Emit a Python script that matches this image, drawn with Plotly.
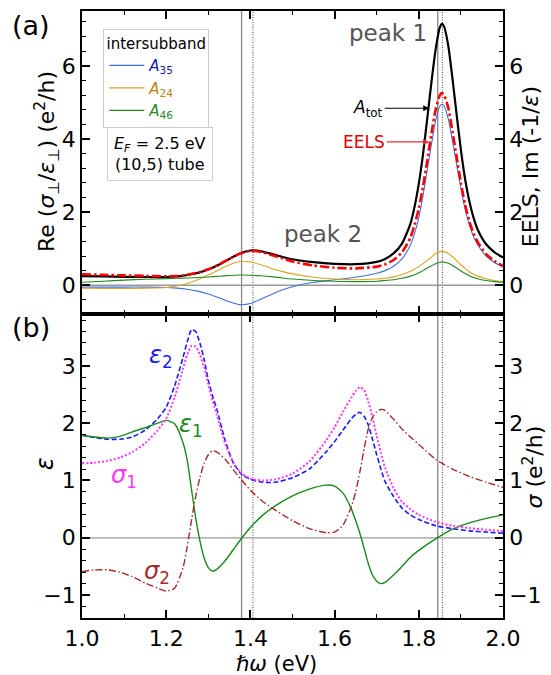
import plotly.graph_objects as go

# ---------------- data: panel (a) ----------------
energy_a = [1.00, 1.05, 1.10, 1.15, 1.20, 1.225, 1.25, 1.275, 1.30, 1.325, 1.35, 1.375, 1.40, 1.425,
            1.45, 1.475, 1.50, 1.55, 1.60, 1.65, 1.70, 1.72, 1.74, 1.76, 1.78, 1.79, 1.80, 1.81, 1.82,
            1.83, 1.84, 1.85, 1.855, 1.86, 1.87, 1.88, 1.89, 1.90, 1.91, 1.92, 1.93, 1.94, 1.96, 1.98, 2.00]
a_tot = [0.25, 0.24, 0.23, 0.225, 0.225, 0.24, 0.28, 0.34, 0.43, 0.56, 0.72, 0.87, 0.95, 0.93,
         0.86, 0.78, 0.71, 0.63, 0.585, 0.575, 0.64, 0.72, 0.87, 1.14, 1.68, 2.15, 2.78, 3.58, 4.55,
         5.55, 6.45, 7.05, 7.15, 7.08, 6.55, 5.65, 4.65, 3.7, 2.9, 2.3, 1.85, 1.52, 1.12, 0.9, 0.76]
eels = [0.30, 0.285, 0.27, 0.255, 0.245, 0.25, 0.285, 0.345, 0.435, 0.565, 0.72, 0.865, 0.94, 0.91,
        0.83, 0.74, 0.65, 0.54, 0.48, 0.46, 0.51, 0.57, 0.69, 0.9, 1.3, 1.65, 2.1, 2.7, 3.4,
        4.15, 4.8, 5.2, 5.26, 5.2, 4.85, 4.2, 3.5, 2.8, 2.2, 1.75, 1.42, 1.18, 0.85, 0.66, 0.53]
a35 = [-0.05, -0.05, -0.05, -0.05, -0.06, -0.08, -0.11, -0.16, -0.24, -0.34, -0.45, -0.53, -0.5, -0.38,
       -0.25, -0.13, -0.04, 0.08, 0.15, 0.22, 0.33, 0.40, 0.52, 0.72, 1.1, 1.42, 1.85, 2.45, 3.15,
       3.85, 4.5, 4.9, 4.95, 4.9, 4.55, 3.95, 3.3, 2.65, 2.08, 1.65, 1.33, 1.1, 0.8, 0.62, 0.5]
a24 = [-0.08, -0.09, -0.09, -0.08, -0.06, -0.02, 0.05, 0.15, 0.28, 0.42, 0.56, 0.65, 0.64, 0.56,
       0.46, 0.38, 0.31, 0.22, 0.17, 0.15, 0.17, 0.19, 0.23, 0.29, 0.38, 0.44, 0.51, 0.59, 0.68,
       0.77, 0.86, 0.92, 0.93, 0.92, 0.87, 0.78, 0.67, 0.56, 0.46, 0.37, 0.3, 0.25, 0.18, 0.13, 0.1]
a46 = [0.08, 0.11, 0.14, 0.165, 0.18, 0.19, 0.2, 0.21, 0.225, 0.245, 0.265, 0.28, 0.275, 0.26,
       0.235, 0.2, 0.17, 0.13, 0.11, 0.10, 0.11, 0.13, 0.15, 0.19, 0.25, 0.29, 0.34, 0.4, 0.47,
       0.53, 0.59, 0.63, 0.64, 0.63, 0.6, 0.54, 0.47, 0.39, 0.32, 0.26, 0.21, 0.18, 0.13, 0.1, 0.08]

# ---------------- data: panel (b) ----------------
energy_b = [1.00, 1.03, 1.06, 1.09, 1.12, 1.15, 1.18, 1.20, 1.22, 1.24, 1.25, 1.26, 1.27, 1.28, 1.29,
            1.30, 1.31, 1.32, 1.34, 1.36, 1.38, 1.40, 1.43, 1.46, 1.50, 1.54, 1.58, 1.60, 1.62, 1.64,
            1.65, 1.66, 1.67, 1.68, 1.69, 1.70, 1.71, 1.72, 1.74, 1.76, 1.78, 1.80, 1.84, 1.88, 1.92,
            1.96, 2.00]
eps2 = [1.79, 1.75, 1.72, 1.72, 1.76, 1.88, 2.08, 2.28, 2.65, 3.15, 3.42, 3.63, 3.6, 3.4, 3.12,
        2.75, 2.48, 2.25, 1.7, 1.3, 1.1, 1.02, 0.97, 0.97, 1.05, 1.2, 1.5, 1.68, 1.88, 2.08,
        2.15, 2.19, 2.12, 1.97, 1.72, 1.45, 1.2, 0.98, 0.72, 0.52, 0.4, 0.32, 0.21, 0.16, 0.12,
        0.1, 0.08]
sig1 = [1.30, 1.31, 1.34, 1.4, 1.5, 1.65, 1.88, 2.08, 2.45, 2.95, 3.2, 3.35, 3.34, 3.2, 2.98,
        2.68, 2.4, 2.15, 1.65, 1.3, 1.12, 1.03, 1.0, 1.02, 1.12, 1.33, 1.7, 1.93, 2.2, 2.45,
        2.56, 2.63, 2.58, 2.38, 2.1, 1.78, 1.48, 1.22, 0.87, 0.63, 0.5, 0.4, 0.28, 0.21, 0.17,
        0.14, 0.12]
eps1 = [1.79, 1.76, 1.74, 1.77, 1.85, 1.92, 2.0, 2.05, 1.99, 1.66, 1.35, 0.85, 0.35, -0.05, -0.35,
        -0.52, -0.58, -0.55, -0.4, -0.2, 0.0, 0.18, 0.4, 0.56, 0.73, 0.85, 0.92, 0.9, 0.78, 0.5,
        0.3, 0.08, -0.18, -0.45, -0.65, -0.76, -0.8, -0.78, -0.65, -0.5, -0.34, -0.22, -0.02, 0.15, 0.26,
        0.34, 0.4]
sig2 = [-0.59, -0.56, -0.56, -0.6, -0.68, -0.79, -0.88, -0.93, -0.88, -0.52, -0.15, 0.3, 0.72, 1.05, 1.3,
        1.45, 1.52, 1.5, 1.37, 1.18, 1.0, 0.83, 0.63, 0.48, 0.3, 0.16, 0.09, 0.1, 0.22, 0.55,
        0.8, 1.15, 1.55, 1.9, 2.1, 2.2, 2.24, 2.22, 2.07, 1.9, 1.76, 1.63, 1.37, 1.2, 1.07,
        0.97, 0.88]

# reference energies (vertical lines)
vlines_solid = [1.379, 1.845]
vlines_dotted = [1.406, 1.856]

# axis ranges
xrange_ = [1.0, 2.0]
yrange_a = [-0.78, 7.5]
yrange_b = [-1.4, 3.91]

FONT = "DejaVu Sans"
fig = go.Figure()

def line(x, y, color, width, dash="solid", xa="x", ya="y", name=None, legend=False):
    fig.add_trace(go.Scatter(x=x, y=y, mode="lines", xaxis=xa, yaxis=ya, name=name,
                             showlegend=legend,
                             line=dict(color=color, width=width, dash=dash, shape="spline", smoothing=0.6)))

# panel (a)
line(energy_a, a35, "#3f6fe0", 1.1, name='<span style="color:#1a1aa6"><i>A</i><sub>35</sub></span>', legend=True)
line(energy_a, a24, "#daa520", 1.1, name='<span style="color:#b8860b"><i>A</i><sub>24</sub></span>', legend=True)
line(energy_a, a46, "#1f8a1f", 1.1, name='<span style="color:#2a8a2a"><i>A</i><sub>46</sub></span>', legend=True)
line(energy_a, a_tot, "black", 2.2)
line(energy_a, eels, "red", 2.6, dash="9px,3px,2.5px,3px", ya="y3")

# panel (b)
line(energy_b, eps2, "#1a1aff", 1.6, dash="5px,2.5px", xa="x2", ya="y2")
line(energy_b, sig1, "#ff33ff", 2.0, dash="2px,2px", xa="x2", ya="y4")
line(energy_b, eps1, "#1a8a1a", 1.4, xa="x2", ya="y2")
line(energy_b, sig2, "#a52a2a", 1.4, dash="7px,2.5px,1.5px,2.5px", xa="x2", ya="y4")

shapes = []
for xv in vlines_solid:
    shapes.append(dict(type="line", xref="x", yref="paper", x0=xv, x1=xv, y0=0, y1=1,
                       line=dict(color="#888888", width=1.3), layer="below"))
for xv in vlines_dotted:
    shapes.append(dict(type="line", xref="x", yref="paper", x0=xv, x1=xv, y0=0, y1=1,
                       line=dict(color="#444444", width=1, dash="1px,1.5px"), layer="below"))
for ya in ["y", "y2"]:
    shapes.append(dict(type="line", xref="paper", yref=ya, x0=0, x1=1, y0=0, y1=0,
                       line=dict(color="#999999", width=1.3), layer="below"))

SPLIT = 0.5012
tickfont = dict(family=FONT, size=22, color="black")

def xax(anchor, labels):
    return dict(range=xrange_, dtick=0.2, tick0=1.0, ticks="inside", ticklen=8, tickwidth=1.5,
                tickcolor="black", showline=True, linecolor="black", linewidth=1.6, mirror="ticks",
                showgrid=False, zeroline=False, anchor=anchor, showticklabels=labels,
                tickformat=".1f", tickfont=tickfont,
                minor=dict(dtick=0.1, ticks="inside", ticklen=4, tickwidth=1.2, tickcolor="black"))

def yax(rng, dom, dt, mdt, side="left", overlay=None, anchor="x"):
    d = dict(range=rng, dtick=dt, tick0=0, ticks="inside", ticklen=8, tickwidth=1.5, tickcolor="black",
             showline=True, linecolor="black", linewidth=1.6, showgrid=False, zeroline=False,
             tickfont=tickfont, side=side, anchor=anchor,
             minor=dict(dtick=mdt, tick0=0, ticks="inside", ticklen=4, tickwidth=1.2, tickcolor="black"))
    if overlay:
        d["overlaying"] = overlay
    else:
        d["domain"] = dom
    return d

ann = []
def txt(x, y, text, size, color="black", angle=0, xref="paper", yref="paper", **kw):
    ann.append(dict(x=x, y=y, xref=xref, yref=yref, text=text, showarrow=False, textangle=angle,
                    font=dict(family=FONT, size=size, color=color), xanchor="center", yanchor="middle", **kw))

txt(-0.1212, 0.9762, "(a)", 27)
txt(-0.1212, 0.4782, "(b)", 27)
txt(-0.0835, 0.7527, "Re (<i>σ</i><sub>⊥</sub>/<i>ε</i><sub>⊥</sub>) (e<sup>2</sup>/h)", 22, angle=-90)
txt(1.0645, 0.7428, "EELS, Im (-1/<i>ε</i>)", 22, angle=-90)
txt(-0.0859, 0.2547, "<i>ε</i>", 24, angle=-90)
txt(1.0715, 0.2481, "<i>σ</i> (e<sup>2</sup>/h)", 22, angle=-90)
txt(0.4624, -0.0765, "<i>ℏω</i> (eV)", 21)
txt(1.728, 6.89, "peak 1", 23, color="#555555", xref="x", yref="y")
txt(1.573, 1.40, "peak 2", 23, color="#555555", xref="x", yref="y")
txt(0.1847, 0.7642, "<i>E<sub>F</sub></i> = 2.5 eV<br>(10,5) tube", 16,
    bordercolor="#cccccc", borderwidth=1, borderpad=6, bgcolor="white")
# panel (b) curve labels
txt(1.187, 3.17, "<i>ε</i><sub>2</sub>", 24, color="#1a1aff", xref="x2", yref="y2")
txt(1.258, 1.96, "<i>ε</i><sub>1</sub>", 24, color="#1a8a1a", xref="x2", yref="y2")
txt(1.10, 1.07, "<i>σ</i><sub>1</sub>", 24, color="#ff33ff", xref="x2", yref="y2")
txt(1.178, -0.60, "<i>σ</i><sub>2</sub>", 24, color="#a52a2a", xref="x2", yref="y2")

# arrows
ann.append(dict(x=1.8247, y=4.84, xref="x", yref="y", text="<i>A</i><sub>tot</sub>", showarrow=True,
                ax=-61, ay=0, arrowhead=2, arrowsize=1, arrowwidth=1.2, arrowcolor="black",
                font=dict(family=FONT, size=17, color="black")))
ann.append(dict(x=1.8247, y=3.92, xref="x", yref="y", text="EELS", showarrow=True,
                ax=-65, ay=0, arrowhead=2, arrowsize=1, arrowwidth=1.2, arrowcolor="#dd3333",
                font=dict(family=FONT, size=17, color="#dd0000")))

fig.update_layout(
    width=551, height=675,
    margin=dict(l=81.5, r=44.5, t=9.5, b=57, pad=0),
    plot_bgcolor="white", paper_bgcolor="white",
    font=dict(family=FONT, size=16, color="black"),
    xaxis=xax("y", False),
    xaxis2=xax("y2", True),
    yaxis=yax(yrange_a, [SPLIT, 1], 2, 0.4),
    yaxis3=yax(yrange_a, None, 2, 0.4, side="right", overlay="y", anchor="x"),
    yaxis2=yax(yrange_b, [0, SPLIT], 1, 0.2),
    yaxis4=yax(yrange_b, None, 1, 0.2, side="right", overlay="y2", anchor="x2"),
    shapes=shapes, annotations=ann,
    legend=dict(x=0.0506, y=0.971, xanchor="left", yanchor="top", bgcolor="white",
                bordercolor="#cccccc", borderwidth=1, itemwidth=35, tracegroupgap=0,
                font=dict(family=FONT, size=15),
                title=dict(text="intersubband", side="top center", font=dict(family=FONT, size=15))),
)
fig.write_html("out.html")
